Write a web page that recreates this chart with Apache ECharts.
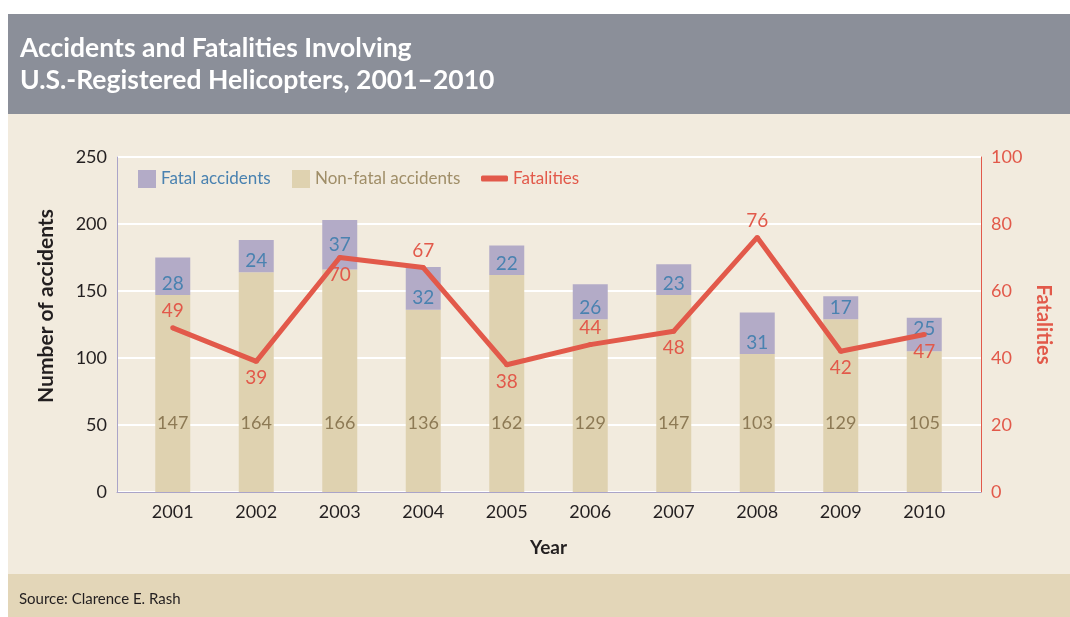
<!DOCTYPE html>
<html>
<head>
<meta charset="utf-8">
<script src="https://cdn.jsdelivr.net/npm/echarts@6/dist/echarts.min.js"></script>
<style>
  html, body { margin: 0; padding: 0; background: #ffffff; }
  #chart { width: 1070px; height: 617px; }
</style>
</head>
<body>
<div id="chart"></div>
<script>
const years = ['2001', '2002', '2003', '2004', '2005', '2006', '2007', '2008', '2009', '2010']
const nonFatal = [147, 164, 166, 136, 162, 129, 147, 103, 129, 105]
const fatal = [28, 24, 37, 32, 22, 26, 23, 31, 17, 25]
const fatalities = [49, 39, 70, 67, 38, 44, 48, 76, 42, 47]

const FONT = 'Lato'
const RED = '#e2594a'
const BLUE = '#4a82b0'
const BROWN = '#8d7a55'

// which fatality labels sit under the line
const below = [false, true, true, false, true, false, true, false, true, true]
// fatal-bar label placement (most sit low in the segment)
const fatalPos = ['insideBottom', 'insideBottom', 'inside', 'insideBottom', 'insideBottom',
  'insideBottom', 'insideBottom', 'insideBottom', 'insideBottom', 'insideTop']

const chart = echarts.init(document.getElementById('chart'))

const option = {
  animation: false,
  textStyle: { fontFamily: FONT },
  graphic: [
    { type: 'rect', left: 8, top: 14, shape: { width: 1062, height: 100 }, style: { fill: '#8b8f99' }, z: -10 },
    { type: 'rect', left: 8, top: 114, shape: { width: 1062, height: 460 }, style: { fill: '#f2ebde' }, z: -10 },
    { type: 'rect', left: 8, top: 574, shape: { width: 1062, height: 43 }, style: { fill: '#e3d6b8' }, z: -10 },
    { type: 'text', left: 19, top: 592, style: { text: 'Source: Clarence E. Rash', fill: '#231f20', font: '15px ' + FONT } }
  ],
  title: {
    text: 'Accidents and Fatalities Involving\nU.S.-Registered Helicopters, 2001–2010',
    left: 15, top: 27,
    textStyle: { color: '#ffffff', fontSize: 26.5, fontWeight: 'bold', lineHeight: 32, fontFamily: FONT }
  },
  legend: [
    { data: ['Fatal accidents'], left: 133, top: 165, itemWidth: 18, itemHeight: 18, icon: 'rect',
      textStyle: { color: BLUE, fontSize: 17, fontFamily: FONT } },
    { data: ['Non-fatal accidents'], left: 287, top: 165, itemWidth: 18, itemHeight: 18, icon: 'rect',
      textStyle: { color: '#a08e68', fontSize: 17, fontFamily: FONT } },
    { data: ['Fatalities'], left: 476, top: 165, itemWidth: 27, itemHeight: 6, icon: 'roundRect',
      textStyle: { color: RED, fontSize: 17, fontFamily: FONT } }
  ],
  grid: [
    { left: 117, right: 89, top: 157, bottom: 125 },
    { left: 131, right: 104, top: 157, bottom: 125 }
  ],
  xAxis: [
    { gridIndex: 0, type: 'value', min: 0, max: 1, axisLine: { show: true, lineStyle: { color: '#aaa4c8', width: 1 } },
      axisTick: { show: false }, axisLabel: { show: false }, splitLine: { show: false } },
    { gridIndex: 1, type: 'category', data: years, axisLine: { show: false }, axisTick: { show: false },
      axisLabel: { color: '#231f20', fontSize: 18, margin: 11, fontFamily: FONT },
      name: 'Year', nameLocation: 'middle', nameGap: 46,
      nameTextStyle: { color: '#231f20', fontSize: 19, fontWeight: 'bold', fontFamily: FONT } }
  ],
  yAxis: [
    { gridIndex: 0, type: 'value', min: 0, max: 250, interval: 50,
      axisLine: { show: true, lineStyle: { color: '#aaa4c8', width: 1 } }, axisTick: { show: false },
      axisLabel: { color: '#231f20', fontSize: 18, margin: 10, fontFamily: FONT },
      splitLine: { show: true, lineStyle: { color: '#ffffff', width: 2 } },
      name: 'Number of accidents', nameLocation: 'middle', nameGap: 60,
      nameTextStyle: { color: '#231f20', fontSize: 21, fontWeight: 'bold', fontFamily: FONT, padding: [0, 0, 0, 37] } },
    { gridIndex: 0, type: 'value', position: 'right', min: 0, max: 100, interval: 20,
      axisLine: { show: true, lineStyle: { color: RED, width: 1 } }, axisTick: { show: false },
      axisLabel: { color: RED, fontSize: 18, margin: 10, fontFamily: FONT },
      splitLine: { show: false },
      name: 'Fatalities', nameLocation: 'middle', nameGap: 49, nameRotate: -90,
      nameTextStyle: { color: RED, fontSize: 20, fontWeight: 'bold', fontFamily: FONT } },
    { gridIndex: 1, type: 'value', min: 0, max: 250, show: false, splitLine: { show: false } },
    { gridIndex: 1, type: 'value', min: 0, max: 100, show: false, splitLine: { show: false } }
  ],
  series: [
    {
      name: 'Non-fatal accidents', type: 'bar', stack: 'acc', xAxisIndex: 1, yAxisIndex: 2,
      barWidth: 35, data: nonFatal, itemStyle: { color: '#dfd2b0' },
      label: { show: true, position: 'insideBottom', distance: 60, color: BROWN, fontSize: 18, fontFamily: FONT }
    },
    {
      name: 'Fatal accidents', type: 'bar', stack: 'acc', xAxisIndex: 1, yAxisIndex: 2,
      barWidth: 35, itemStyle: { color: '#b3abc7' },
      data: fatal.map((v, i) => ({ value: v, label: { position: fatalPos[i] } })),
      label: { show: true, distance: 2, color: BLUE, fontSize: 19, fontFamily: FONT }
    },
    {
      name: 'Fatalities', type: 'line', xAxisIndex: 1, yAxisIndex: 3,
      data: fatalities.map((v, i) => ({ value: v, label: { position: below[i] ? 'bottom' : 'top' } })),
      symbol: 'circle', symbolSize: 5, itemStyle: { color: RED },
      lineStyle: { color: RED, width: 5 },
      label: { show: true, color: RED, fontSize: 19, distance: 5, fontFamily: FONT },
      z: 5
    }
  ]
}

chart.setOption(option)
</script>
</body>
</html>
